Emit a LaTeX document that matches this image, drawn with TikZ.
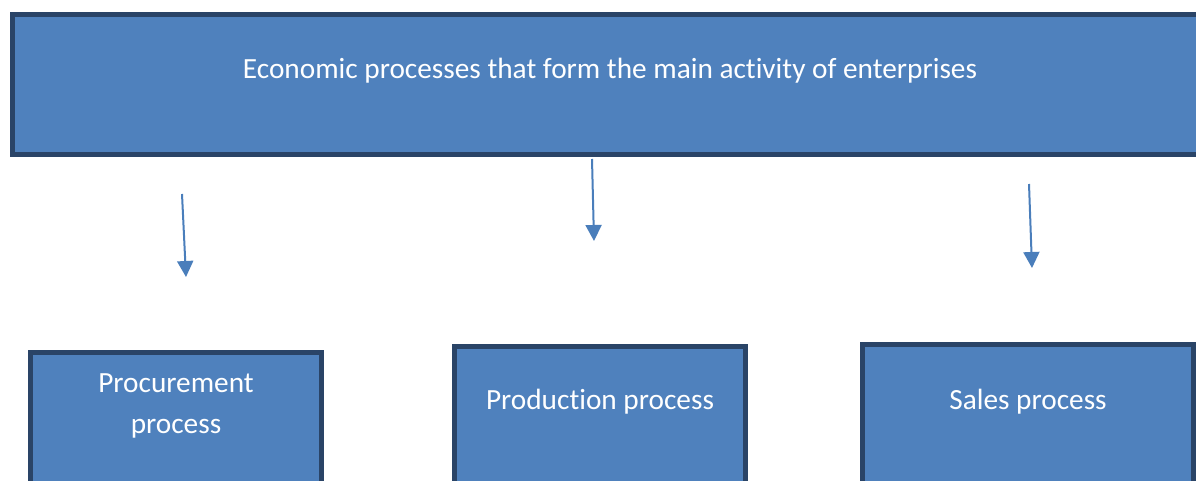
\documentclass[tikz,border=0pt]{standalone}
\usepackage{fontspec}
\setmainfont{Carlito}[Ligatures=NoCommon]
\usetikzlibrary{arrows.meta}
\definecolor{boxfill}{HTML}{4F81BD}
\definecolor{boxline}{HTML}{2A4467}
\definecolor{arrowblue}{HTML}{4A7EBB}
\tikzset{
  x=1pt, y=-1pt,
  procbox/.style={draw=boxline, line width=5pt, fill=boxfill},
  boxtext/.style={text=white, font=\fontsize{29.3}{41}\selectfont, align=center, inner sep=0pt},
  flow/.style={draw=arrowblue, line width=2pt, -{Triangle[length=16pt, width=16pt]}}
}
\begin{document}
\begin{tikzpicture}
\useasboundingbox (0,0) rectangle (1196,481);
\clip (0,0) rectangle (1196,481);
% heading box, running past the right edge
\draw[procbox] (12.5,14.5) rectangle (1215,154.5);
\node[boxtext] (top) at (610,71) {Economic processes that form the main activity of enterprises};
% the three process boxes, open at the bottom edge
\draw[procbox] (30.5,352.5) rectangle (321.5,500);
\draw[procbox] (454.5,346.5) rectangle (745.5,500);
\draw[procbox] (862.5,344.5) rectangle (1193.5,500);
\node[boxtext] (proc) at (176,406) {Procurement\\process};
\node[boxtext] (prod) at (600,402) {Production process};
\node[boxtext] (sales) at (1028,402) {Sales process};
% arrows hanging between the heading and the process boxes
\coordinate (a1s) at (182,194); \coordinate (a1e) at (186,277);
\coordinate (a2s) at (592,159); \coordinate (a2e) at (594,241);
\coordinate (a3s) at (1029,184); \coordinate (a3e) at (1032,268);
\draw[flow] (a1s) -- (a1e);
\draw[flow] (a2s) -- (a2e);
\draw[flow] (a3s) -- (a3e);
\end{tikzpicture}
\end{document}
